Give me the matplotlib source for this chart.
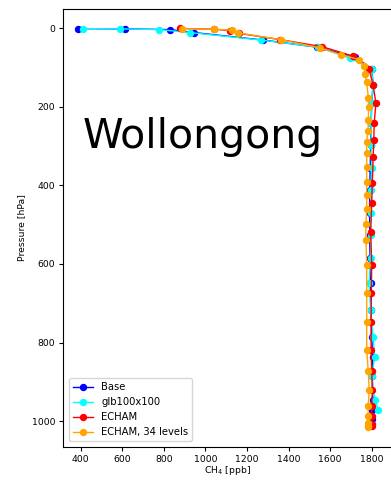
import matplotlib
matplotlib.use("Agg")
import matplotlib.pyplot as plt

# Vertical CH4 profiles at Wollongong for four model configurations
p_base = [1, 1.5, 3.5, 11, 30, 48, 73, 103, 144, 191, 242, 297, 355, 413, 470,
          527, 585, 649, 718, 786, 838, 886, 947, 972, 995, 1010]
ch4_base = [388, 613, 830, 946, 1278, 1535, 1718, 1800, 1807, 1800, 1797, 1795,
            1793, 1790, 1790, 1790, 1792, 1795, 1797, 1800, 1805, 1803, 1805,
            1803, 1800, 1798]

p_glb = [1, 1.5, 3.5, 11, 30, 48, 76, 103, 144, 191, 242, 297, 355, 413, 470,
         527, 585, 649, 718, 786, 838, 886, 947, 972]
ch4_glb = [412, 589, 778, 926, 1266, 1540, 1695, 1800, 1805, 1800, 1798, 1797,
           1800, 1797, 1795, 1795, 1795, 1787, 1795, 1807, 1814, 1800, 1816,
           1832]

p_echam = [0.5, 2.5, 6, 13, 29, 47, 71, 103, 145, 190, 242, 285, 327, 393, 444,
           518, 603, 675, 747, 818, 872, 921, 962, 988, 1008, 1013]
ch4_echam = [878, 1040, 1120, 1160, 1360, 1562, 1711, 1787, 1807, 1820, 1812,
             1810, 1807, 1803, 1800, 1795, 1800, 1798, 1797, 1797, 1800, 1803,
             1800, 1800, 1800, 1800]

p_echam34 = [1, 2.5, 5, 12, 29, 50, 67, 80, 97, 116, 137, 178, 200, 234, 261,
             289, 317, 353, 391, 425, 461, 499, 539, 603, 675, 747, 818, 872,
             921, 962, 988, 1005, 1012, 1015]
ch4_echam34 = [889, 1041, 1126, 1158, 1363, 1551, 1652, 1740, 1764, 1767, 1776,
               1784, 1785, 1784, 1782, 1776, 1776, 1776, 1776, 1776, 1776, 1772,
               1772, 1776, 1776, 1776, 1776, 1783, 1788, 1783, 1783, 1783, 1783,
               1783]

series = [
    ("Base", ch4_base, p_base, "blue"),
    ("glb100x100", ch4_glb, p_glb, "cyan"),
    ("ECHAM", ch4_echam, p_echam, "red"),
    ("ECHAM, 34 levels", ch4_echam34, p_echam34, "orange"),
]

fig = plt.figure(figsize=(3.91, 4.80), dpi=100)
ax = fig.add_axes([63 / 391, 1 - 447 / 480, 329.5 / 391, 438 / 480])

for label, x, p, c in series:
    ax.plot(x, p, "-o", color=c, label=label, markersize=4.3, linewidth=1)

ax.set_xlim(315, 1900)
ax.set_ylim(1066, -49)
ax.set_xticks([400, 600, 800, 1000, 1200, 1400, 1600, 1800])
ax.set_yticks([0, 200, 400, 600, 800, 1000])
ax.tick_params(labelsize=6.7, length=3, pad=2.5)
ax.set_xlabel("CH$_4$ [ppb]", fontsize=6.7, labelpad=0.5)
ax.set_ylabel("Pressure [hPa]", fontsize=6.7)

ax.text(0.06, 0.708, "Wollongong", transform=ax.transAxes, fontsize=29.5,
        va="center", ha="left")

ax.legend(loc="lower left", fontsize=7.2, borderaxespad=0.6)

fig.savefig("out.png", dpi=100)
